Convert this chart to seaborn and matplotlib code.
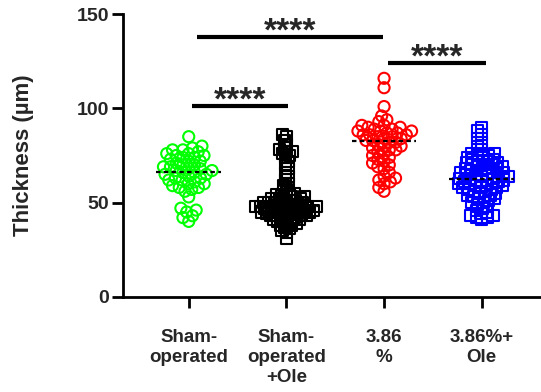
import numpy as np
import pandas as pd
import matplotlib
matplotlib.use('Agg')
import matplotlib.pyplot as plt
import seaborn as sns

groups = ['Sham-\noperated', 'Sham-\noperated\n+Ole', '3.86\n%', '3.86%+\nOle']
colors = ['#00ff00', '#000000', '#ff0000', '#0000ff']
markers = ['o', 's', 'o', 's']

sham = [85, 80, 79, 78, 78, 77, 76, 76, 75, 75, 74, 74, 73, 72, 72, 71, 70, 70,
        69, 69, 68, 68, 67, 67, 66, 66, 65, 65, 64, 63, 63, 62, 62, 61, 60, 60,
        59, 58, 58, 57, 56, 53, 47, 46, 45, 43, 42, 40]
sham_ole = [86, 85, 83, 81, 79, 78, 77, 77, 76, 75, 74, 72, 70, 68, 66, 64, 62, 60,
            59, 57, 55, 55, 54, 54, 53, 53, 53, 52, 52, 52, 51, 51, 51, 50, 50, 50,
            50, 49, 49, 49, 49, 48, 48, 48, 48, 48, 47, 47, 47, 47, 47, 46, 46, 46,
            46, 46, 45, 45, 45, 45, 45, 44, 44, 44, 44, 43, 43, 43, 43, 42, 42, 42,
            41, 41, 41, 40, 40, 39, 39, 38, 38, 37, 36, 35, 34, 31]
pct = [116, 111, 101, 96, 94, 93, 91, 91, 90, 90, 89, 89, 88, 88, 88, 87, 87, 86,
       86, 86, 85, 85, 84, 84, 83, 83, 82, 82, 81, 80, 80, 79, 78, 78, 77, 76, 75,
       74, 73, 72, 71, 70, 69, 68, 66, 64, 63, 62, 61, 60, 58, 56]
pct_ole = [90, 88, 86, 84, 82, 80, 78, 76, 76, 75, 75, 74, 74, 73, 73, 72, 72, 71,
           71, 70, 70, 70, 69, 69, 68, 68, 68, 67, 67, 66, 66, 66, 65, 65, 65, 64,
           64, 64, 63, 63, 63, 62, 62, 62, 61, 61, 61, 60, 60, 60, 59, 59, 59, 58,
           58, 58, 57, 57, 56, 56, 55, 55, 54, 54, 53, 53, 52, 52, 51, 50, 50, 49,
           48, 47, 46, 45, 44, 43, 43, 42, 42, 41]
values = [sham, sham_ole, pct, pct_ole]

# (x start, x end, bar height, label)
comparisons = [(0.03, 1.02, 101.5, '****'),
               (0.08, 1.99, 138, '****'),
               (2.04, 3.04, 124, '****')]

df = pd.DataFrame({
    'group': np.repeat(groups, [len(v) for v in values]),
    'thickness': np.concatenate(values),
})

sns.set_style('ticks')
plt.rcParams['font.family'] = ['Liberation Sans', 'DejaVu Sans']
plt.rcParams['font.weight'] = 'bold'

fig = plt.figure(figsize=(5.41, 3.92), dpi=100)
ax = fig.add_axes([123 / 541, 1 - 296.7 / 392, 418 / 541, 282.4 / 392])

# swarm layout computed with small markers so the points overlap like the original
swarm_size = [4.8, 3.3, 4.5, 4.1]
group_colls = []
for g, col, mk, sz in zip(groups, colors, markers, swarm_size):
    n0 = len(ax.collections)
    sns.swarmplot(data=df[df['group'] == g], x='group', y='thickness', order=groups,
                  color=col, marker=mk, size=sz, linewidth=0, ax=ax)
    group_colls.append((ax.collections[n0:], col))

ax.set_xlim(-0.673, 3.607)
ax.set_ylim(0, 150)
fig.canvas.draw()

for colls, col in group_colls:
    for c in colls:
        if 'draw' in c.__dict__:
            del c.draw
        c.set_sizes([64])
        c.set_facecolor('none')
        c.set_edgecolor(col)
        c.set_linewidth(1.5)

for i, v in enumerate(values):
    ax.hlines(np.median(v), i - 0.33, i + 0.33, colors='black', linewidth=1.6,
              linestyles=(0, (2, 1.5)), zorder=3)

for x1, x2, h, lab in comparisons:
    ax.plot([x1, x2], [h, h], color='black', linewidth=3, solid_capstyle='butt', clip_on=False)
    ax.annotate(lab, xy=((x1 + x2) / 2, h), xytext=(0, -2.5), textcoords='offset points',
                ha='center', va='baseline', fontsize=24, fontweight='bold')

ax.set_yticks([0, 50, 100, 150])
ax.set_xlabel('')
ax.set_ylabel('Thickness (µm)', fontsize=16, fontweight='bold')
ax.yaxis.set_label_coords(-0.213, 0.5)
ax.tick_params(axis='both', length=8, width=2, color='black')
ax.tick_params(axis='x', pad=15.5, labelsize=13.5)
ax.tick_params(axis='y', pad=2, labelsize=14)
for lbl in ax.get_xticklabels() + ax.get_yticklabels():
    lbl.set_fontweight('bold')
sns.despine(ax=ax)
for s in ['left', 'bottom']:
    ax.spines[s].set_linewidth(2)
    ax.spines[s].set_color('black')

fig.savefig('out.png', dpi=100)
plt.close(fig)
